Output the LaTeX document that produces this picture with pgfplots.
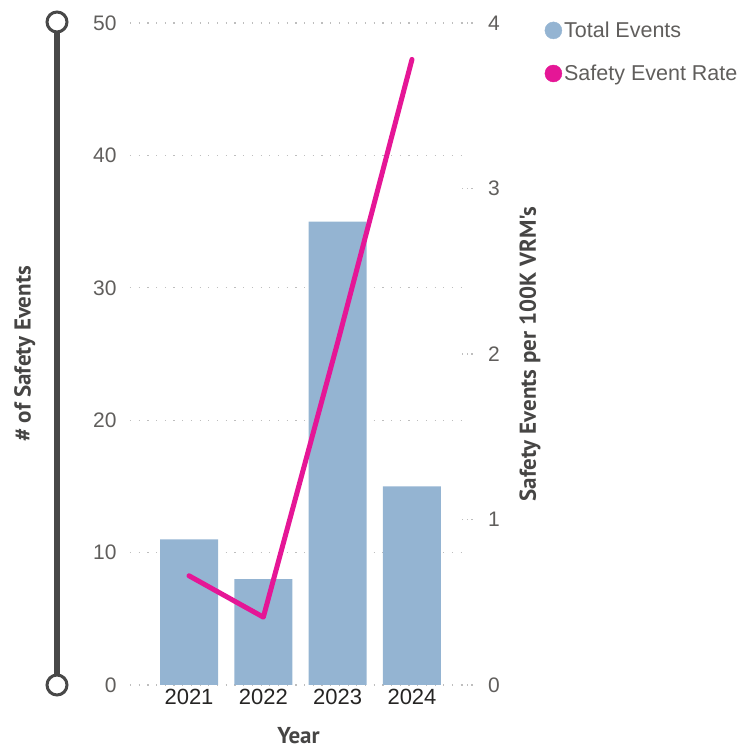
\documentclass[border=0pt]{standalone}
\usepackage{pgfplots}
\pgfplotsset{compat=1.18}
\usepackage{fontspec}
\setmainfont{Liberation Sans}
\newfontfamily\titlefont{PT Sans}
\definecolor{barblue}{RGB}{148,180,210}
\definecolor{rate}{RGB}{229,22,150}
\definecolor{tickgray}{RGB}{96,94,92}
\definecolor{darktext}{RGB}{37,36,35}
\definecolor{gridgray}{RGB}{190,190,190}
\definecolor{slider}{RGB}{72,72,72}
\begin{document}
\begin{tikzpicture}
\path[use as bounding box] (-130pt,-64pt) rectangle (625pt,685pt);
% left slider decoration
\draw[line width=6pt, color=slider] (-73pt,0pt) -- (-73pt,663pt);
\draw[line width=3pt, draw=slider, fill=white] (-73pt,0pt) circle (10pt);
\draw[line width=3pt, draw=slider, fill=white] (-73pt,663pt) circle (10pt);
\begin{axis}[
  at={(0pt,0pt)}, anchor=south west,
  scale only axis, width=337pt, height=662pt,
  xmin=-0.794, xmax=3.74, ymin=0, ymax=50,
  axis line style={draw=none},
  tick style={draw=none},
  xtick={0,1,2,3}, xticklabels={2021,2022,2023,2024},
  ytick={0,10,20,30,40,50},
  ymajorgrids,
  grid style={gridgray, line width=1.2pt, dash pattern=on 1.2pt off 7.5pt},
  /pgf/number format/assume math mode=true,
  y tick label style={font=\fontsize{21}{25}\selectfont, color=tickgray, anchor=east, xshift=-10pt},
  x tick label style={font=\fontsize{22}{26}\selectfont, color=darktext, anchor=center, yshift=-12pt},
  xlabel={\titlefont\bfseries Year},
  xlabel style={font=\fontsize{23}{27}\selectfont, color=darktext!85, at={(axis description cs:0.5,-0.0765)}, anchor=center},
  ylabel={\titlefont\bfseries \# of Safety Events},
  ylabel style={font=\fontsize{23}{27}\selectfont, color=darktext!85, at={(axis description cs:-0.312,0.5)}, anchor=center, rotate=0},
]
\addplot[ybar, bar width=58pt, fill=barblue, draw=none] coordinates {(0,11) (1,8) (2,35) (3,15)};
\end{axis}
\begin{axis}[
  at={(0pt,0pt)}, anchor=south west,
  scale only axis, width=337pt, height=662pt,
  xmin=-0.794, xmax=3.74, ymin=0, ymax=4,
  axis line style={draw=none},
  hide x axis,
  axis y line*=right,
  ytick={0,1,2,3,4},
  yticklabel pos=right,
  major tick length=11pt,
  tick align=center,
  ytick style={gridgray, line width=1.2pt, dash pattern=on 1.2pt off 3.5pt},
  /pgf/number format/assume math mode=true,
  y tick label style={font=\fontsize{21}{25}\selectfont, color=tickgray, anchor=west, xshift=12pt},
  ylabel={\titlefont\bfseries Safety Events per 100K VRM's},
  ylabel style={font=\fontsize{23}{27}\selectfont, color=darktext!85, at={(axis description cs:1.187,0.5)}, anchor=center, rotate=0},
  legend style={draw=none, fill=none, at={(axis description cs:1.23,1.005)}, anchor=north west,
    font=\fontsize{21.5}{25}\selectfont, text=tickgray, row sep=22pt, inner sep=0pt,
    nodes={inner sep=2pt}},
  legend cell align=left,
]
\addlegendimage{legend image code/.code={\fill[barblue] (0pt,0pt) circle (8.5pt);}}
\addlegendentry{Total Events}
\addlegendimage{legend image code/.code={\fill[rate] (0pt,0pt) circle (8.5pt);}}
\addlegendentry{Safety Event Rate}
\addplot[rate, line width=5pt, line join=round, line cap=round, forget plot] coordinates {(0,0.66) (1,0.41) (2,2.07) (3,3.78)};
\end{axis}
\end{tikzpicture}
\end{document}
